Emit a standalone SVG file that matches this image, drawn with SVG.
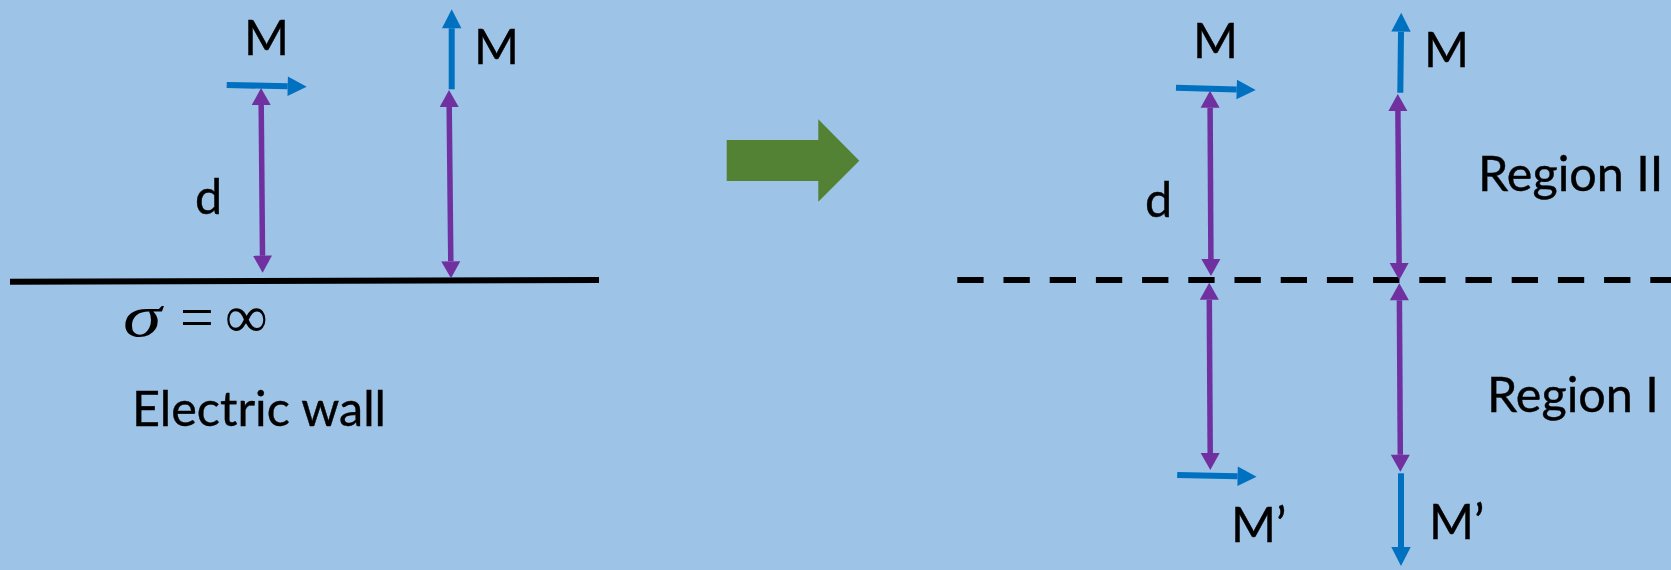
<svg xmlns="http://www.w3.org/2000/svg" width="1671" height="570" viewBox="0 0 1671 570">
  <style>
    .lbl { font-family: Lato, "Noto Sans", "Liberation Sans", sans-serif; font-size: 48.5px; fill: #000; stroke: #000; stroke-width: 0.4; }
    .math { font-family: "Liberation Serif", "DejaVu Serif", serif; font-size: 60px; fill: #000; }
    .moment { stroke: #0070C0; stroke-width: 6; fill: none; marker-end: url(#headBlue); }
    .dist { stroke: #7030A0; stroke-width: 5.5; fill: none; marker-start: url(#headPurple); marker-end: url(#headPurple); }
    .wall { stroke: #000; stroke-width: 6; fill: none; }
    .image-plane { stroke: #000; stroke-width: 6; fill: none; stroke-dasharray: 26.3 19.9; }
  </style>
  <defs>
    <marker id="headBlue" markerUnits="userSpaceOnUse" viewBox="0 0 20 20" markerWidth="20" markerHeight="20" refX="0" refY="10" orient="auto-start-reverse" overflow="visible">
      <path d="M0,0.3 L19,10 L0,19.7 z" fill="#0070C0"/>
    </marker>
    <marker id="headPurple" markerUnits="userSpaceOnUse" viewBox="0 0 20 20" markerWidth="20" markerHeight="20" refX="0" refY="10" orient="auto-start-reverse" overflow="visible">
      <path d="M0,0.5 L17,10 L0,19.5 z" fill="#7030A0"/>
    </marker>
  </defs>

  <rect width="1671" height="570" fill="#9DC3E6"/>

  <!-- Left: dipoles above a perfectly conducting wall -->
  <g id="wall">
    <line class="wall" x1="10" y1="281.7" x2="599" y2="280"/>
    <text class="math" transform="translate(123 336) scale(1.3 1)" font-size="54" font-style="italic">σ</text>
    <text class="math" x="180" y="337">=</text>
    <text class="math" x="225" y="337">∞</text>
    <text class="lbl" x="132" y="426">Electric wall</text>
  </g>
  <g id="dipole-h-left">
    <text class="lbl" x="244" y="55">M</text>
  </g>
  <g id="dipole-v-left">
    <text class="lbl" x="474" y="64">M</text>
  </g>
  <g id="dist-left">
    <text class="lbl" x="195" y="214">d</text>
  </g>

  <!-- Transformation arrow -->
  <g id="transform-arrow">
    <polygon points="726.7,140 818.3,140 818.3,119.3 859.3,160.7 818.3,201.7 818.3,181 726.7,181" fill="#548235"/>
  </g>

  <!-- Right: equivalent problem with image dipoles -->
  <g id="image-plane">
    <line class="image-plane" x1="957.3" y1="280" x2="1671" y2="280"/>
  </g>
  <g id="region-2">
    <text class="lbl" x="1478" y="191">Region II</text>
  </g>
  <g id="region-1">
    <text class="lbl" x="1487" y="411.7">Region I</text>
  </g>
  <g id="dipole-h-right">
    <text class="lbl" x="1193" y="58.3">M</text>
  </g>
  <g id="dipole-v-right">
    <text class="lbl" x="1424" y="66.7">M</text>
  </g>
  <g id="dist-right">
    <text class="lbl" x="1145" y="216.7">d</text>
  </g>
  <g id="image-h">
    <text class="lbl" x="1231" y="541.7">M’</text>
  </g>
  <g id="image-v">
    <text class="lbl" x="1429" y="539.3">M’</text>
  </g>

  <g id="connectors">
    <!-- magnetic moments -->
    <line class="moment" x1="226.7" y1="85" x2="287.7" y2="86.3"/>
    <line class="moment" x1="451.7" y1="89.3" x2="451.7" y2="28.3"/>
    <line class="moment" x1="1176" y1="87.7" x2="1236.7" y2="89.5"/>
    <line class="moment" x1="1400.3" y1="92.7" x2="1401" y2="31.7"/>
    <line class="moment" x1="1177.2" y1="475" x2="1237.6" y2="476.3"/>
    <line class="moment" x1="1401" y1="473.3" x2="1401" y2="547"/>
    <!-- distances -->
    <line class="dist" x1="261.2" y1="105" x2="262.5" y2="255.7"/>
    <line class="dist" x1="449.2" y1="107" x2="450.8" y2="261.3"/>
    <line class="dist" x1="1210.1" y1="107.7" x2="1210.9" y2="259"/>
    <line class="dist" x1="1397.9" y1="111" x2="1399.1" y2="263"/>
    <line class="dist" x1="1209.3" y1="299.7" x2="1210.2" y2="453"/>
    <line class="dist" x1="1399.4" y1="300.3" x2="1400.3" y2="454.7"/>
  </g>
</svg>
